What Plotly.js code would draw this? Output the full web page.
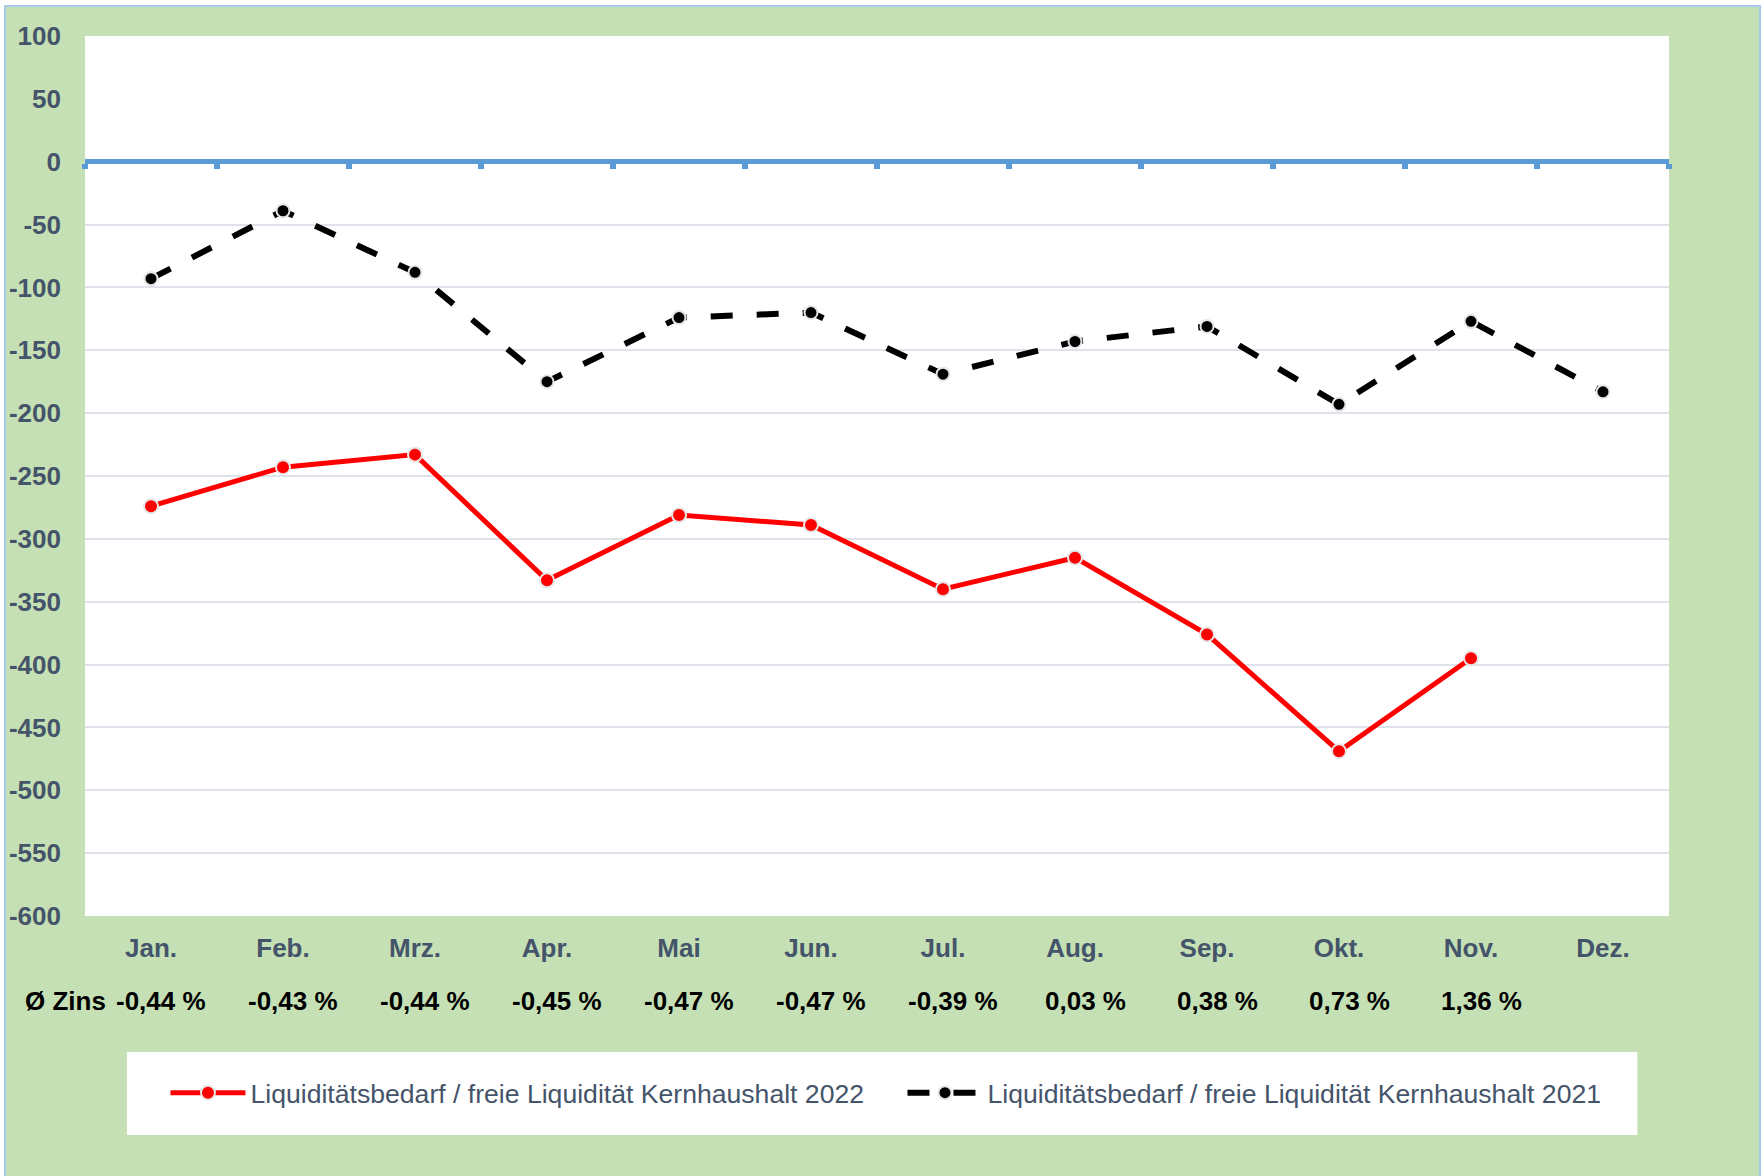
<!DOCTYPE html>
<html>
<head>
<meta charset="utf-8">
<script src="https://cdn.plot.ly/plotly-3.0.1.min.js"></script>
<style>
  html, body { margin: 0; padding: 0; background: #ffffff; overflow: hidden; }
  #frame { position: absolute; left: 4px; top: 5px; width: 1753px; height: 1180px;
           border: 2px solid #A9C9EB; background: #C5E0B4; }
  #chart { width: 1753px; height: 1169px; }
</style>
</head>
<body>
<div id="frame"><div id="chart"></div></div>
<script>
// ---- data ----
const months = ["Jan.", "Feb.", "Mrz.", "Apr.", "Mai", "Jun.", "Jul.", "Aug.", "Sep.", "Okt.", "Nov.", "Dez."];
const liq2022 = [-274, -243, -233, -333, -281, -289, -340, -315, -376, -469, -395, null];
const liq2021 = [-93, -39, -88, -175, -124, -120, -169, -143, -131, -193, -127, -183];
const zinsLabels = ["-0,44 %", "-0,43 %", "-0,44 %", "-0,45 %", "-0,47 %", "-0,47 %", "-0,39 %", "0,03 %", "0,38 %", "0,73 %", "1,36 %", ""];
const yTickValues = [100, 50, 0, -50, -100, -150, -200, -250, -300, -350, -400, -450, -500, -550, -600];
const yTickLabels = ["100", "50", "0", "-50", "-100", "-150", "-200", "-250", "-300", "-350", "-400", "-450", "-500", "-550", "-600"];
const name2022 = "Liquiditätsbedarf / freie Liquidität Kernhaushalt 2022";
const name2021 = "Liquiditätsbedarf / freie Liquidität Kernhaushalt 2021";
const zinsTitle = "Ø Zins";
const yMin = -600, yMax = 100;

const FONT = "Liberation Sans, Arial, sans-serif";
const SLATE = "#44546A";
const PLOT_H = 880;                       // plot-area height in px
const zeroFrac = (0 - yMin) / (yMax - yMin);
const LINE_W = 5;

const traces = [
  {
    x: months, y: liq2022, name: name2022, type: "scatter", mode: "lines+markers",
    line: { color: "#FF0000", width: 5 },
    marker: { color: "#FF0000", size: 14, line: { color: "#E6E6E6", width: 2 } },
    connectgaps: false
  },
  {
    x: months, y: liq2021, name: name2021, type: "scatter", mode: "lines+markers",
    line: { color: "#000000", width: 6, dash: "22px,24px" },
    marker: { color: "#000000", size: 13, line: { color: "#E6E6E6", width: 2 } }
  },
  // empty helper trace so the zero-line axis (x2/y2) gets drawn
  {
    x: [], y: [], xaxis: "x2", yaxis: "y2", type: "scatter", mode: "lines",
    showlegend: false, hoverinfo: "skip"
  }
];

const annotations = zinsLabels.map((t, i) => ({
  x: months[i], y: -0.0963, xref: "x", yref: "paper",
  text: t, showarrow: false, xanchor: "center", yanchor: "middle", xshift: 10,
  font: { family: FONT, size: 26, color: "#000000", weight: "bold" }
}));
annotations.push({
  x: -0.0126, y: -0.0963, xref: "paper", yref: "paper", text: zinsTitle,
  showarrow: false, xanchor: "center", yanchor: "middle",
  font: { family: FONT, size: 26, color: "#000000", weight: "bold" }
});

const layout = {
  width: 1753, height: 1169,
  margin: { l: 79, r: 90, t: 29, b: 260 },
  paper_bgcolor: "#C5E0B4",
  plot_bgcolor: "#FFFFFF",
  showlegend: true,
  xaxis: {
    type: "category", categoryorder: "array", categoryarray: months,
    range: [-0.5, months.length - 0.5],
    showgrid: false, zeroline: false, showline: false, ticks: "",
    tickfont: { family: FONT, size: 26, color: SLATE, weight: "bold" },
    ticklabelstandoff: 14
  },
  // helper axis pair: draws the blue axis line at y = 0 with ticks at category boundaries
  xaxis2: {
    type: "linear", range: [-0.5, months.length - 0.5], anchor: "y2", side: "bottom",
    tickmode: "linear", tick0: -0.5, dtick: 1,
    showgrid: false, zeroline: false,
    showline: true, linecolor: "#5B9BD5", linewidth: LINE_W,
    ticks: "outside", ticklen: 5, tickwidth: 6, tickcolor: "#5B9BD5",
    showticklabels: false
  },
  yaxis2: {
    domain: [zeroFrac + (LINE_W / 2) / PLOT_H, 1], anchor: "x2", range: [0, yMax],
    showgrid: false, zeroline: false, showline: false, ticks: "", showticklabels: false
  },
  yaxis: {
    range: [yMin, yMax], tickmode: "array", tickvals: yTickValues, ticktext: yTickLabels,
    showgrid: true, gridcolor: "#DEE3EA", gridwidth: 2,
    zeroline: false,
    showline: false, ticks: "",
    tickfont: { family: FONT, size: 26, color: SLATE, weight: "bold" },
    ticklabelstandoff: 23
  },
  legend: {
    orientation: "h", x: 0.0508, xanchor: "left", y: -0.201, yanchor: "middle",
    bgcolor: "rgba(0,0,0,0)", itemwidth: 75, entrywidth: 647, entrywidthmode: "pixels",
    font: { family: FONT, size: 26.6, color: SLATE }
  },
  shapes: [{
    type: "rect", xref: "paper", yref: "paper",
    x0: 0.0265, x1: 0.980, y0: -0.2489, y1: -0.1545,
    fillcolor: "#FFFFFF", line: { width: 0 }, layer: "below"
  }],
  annotations: annotations
};

Plotly.newPlot("chart", traces, layout, { displayModeBar: false, staticPlot: true });
</script>
</body>
</html>
